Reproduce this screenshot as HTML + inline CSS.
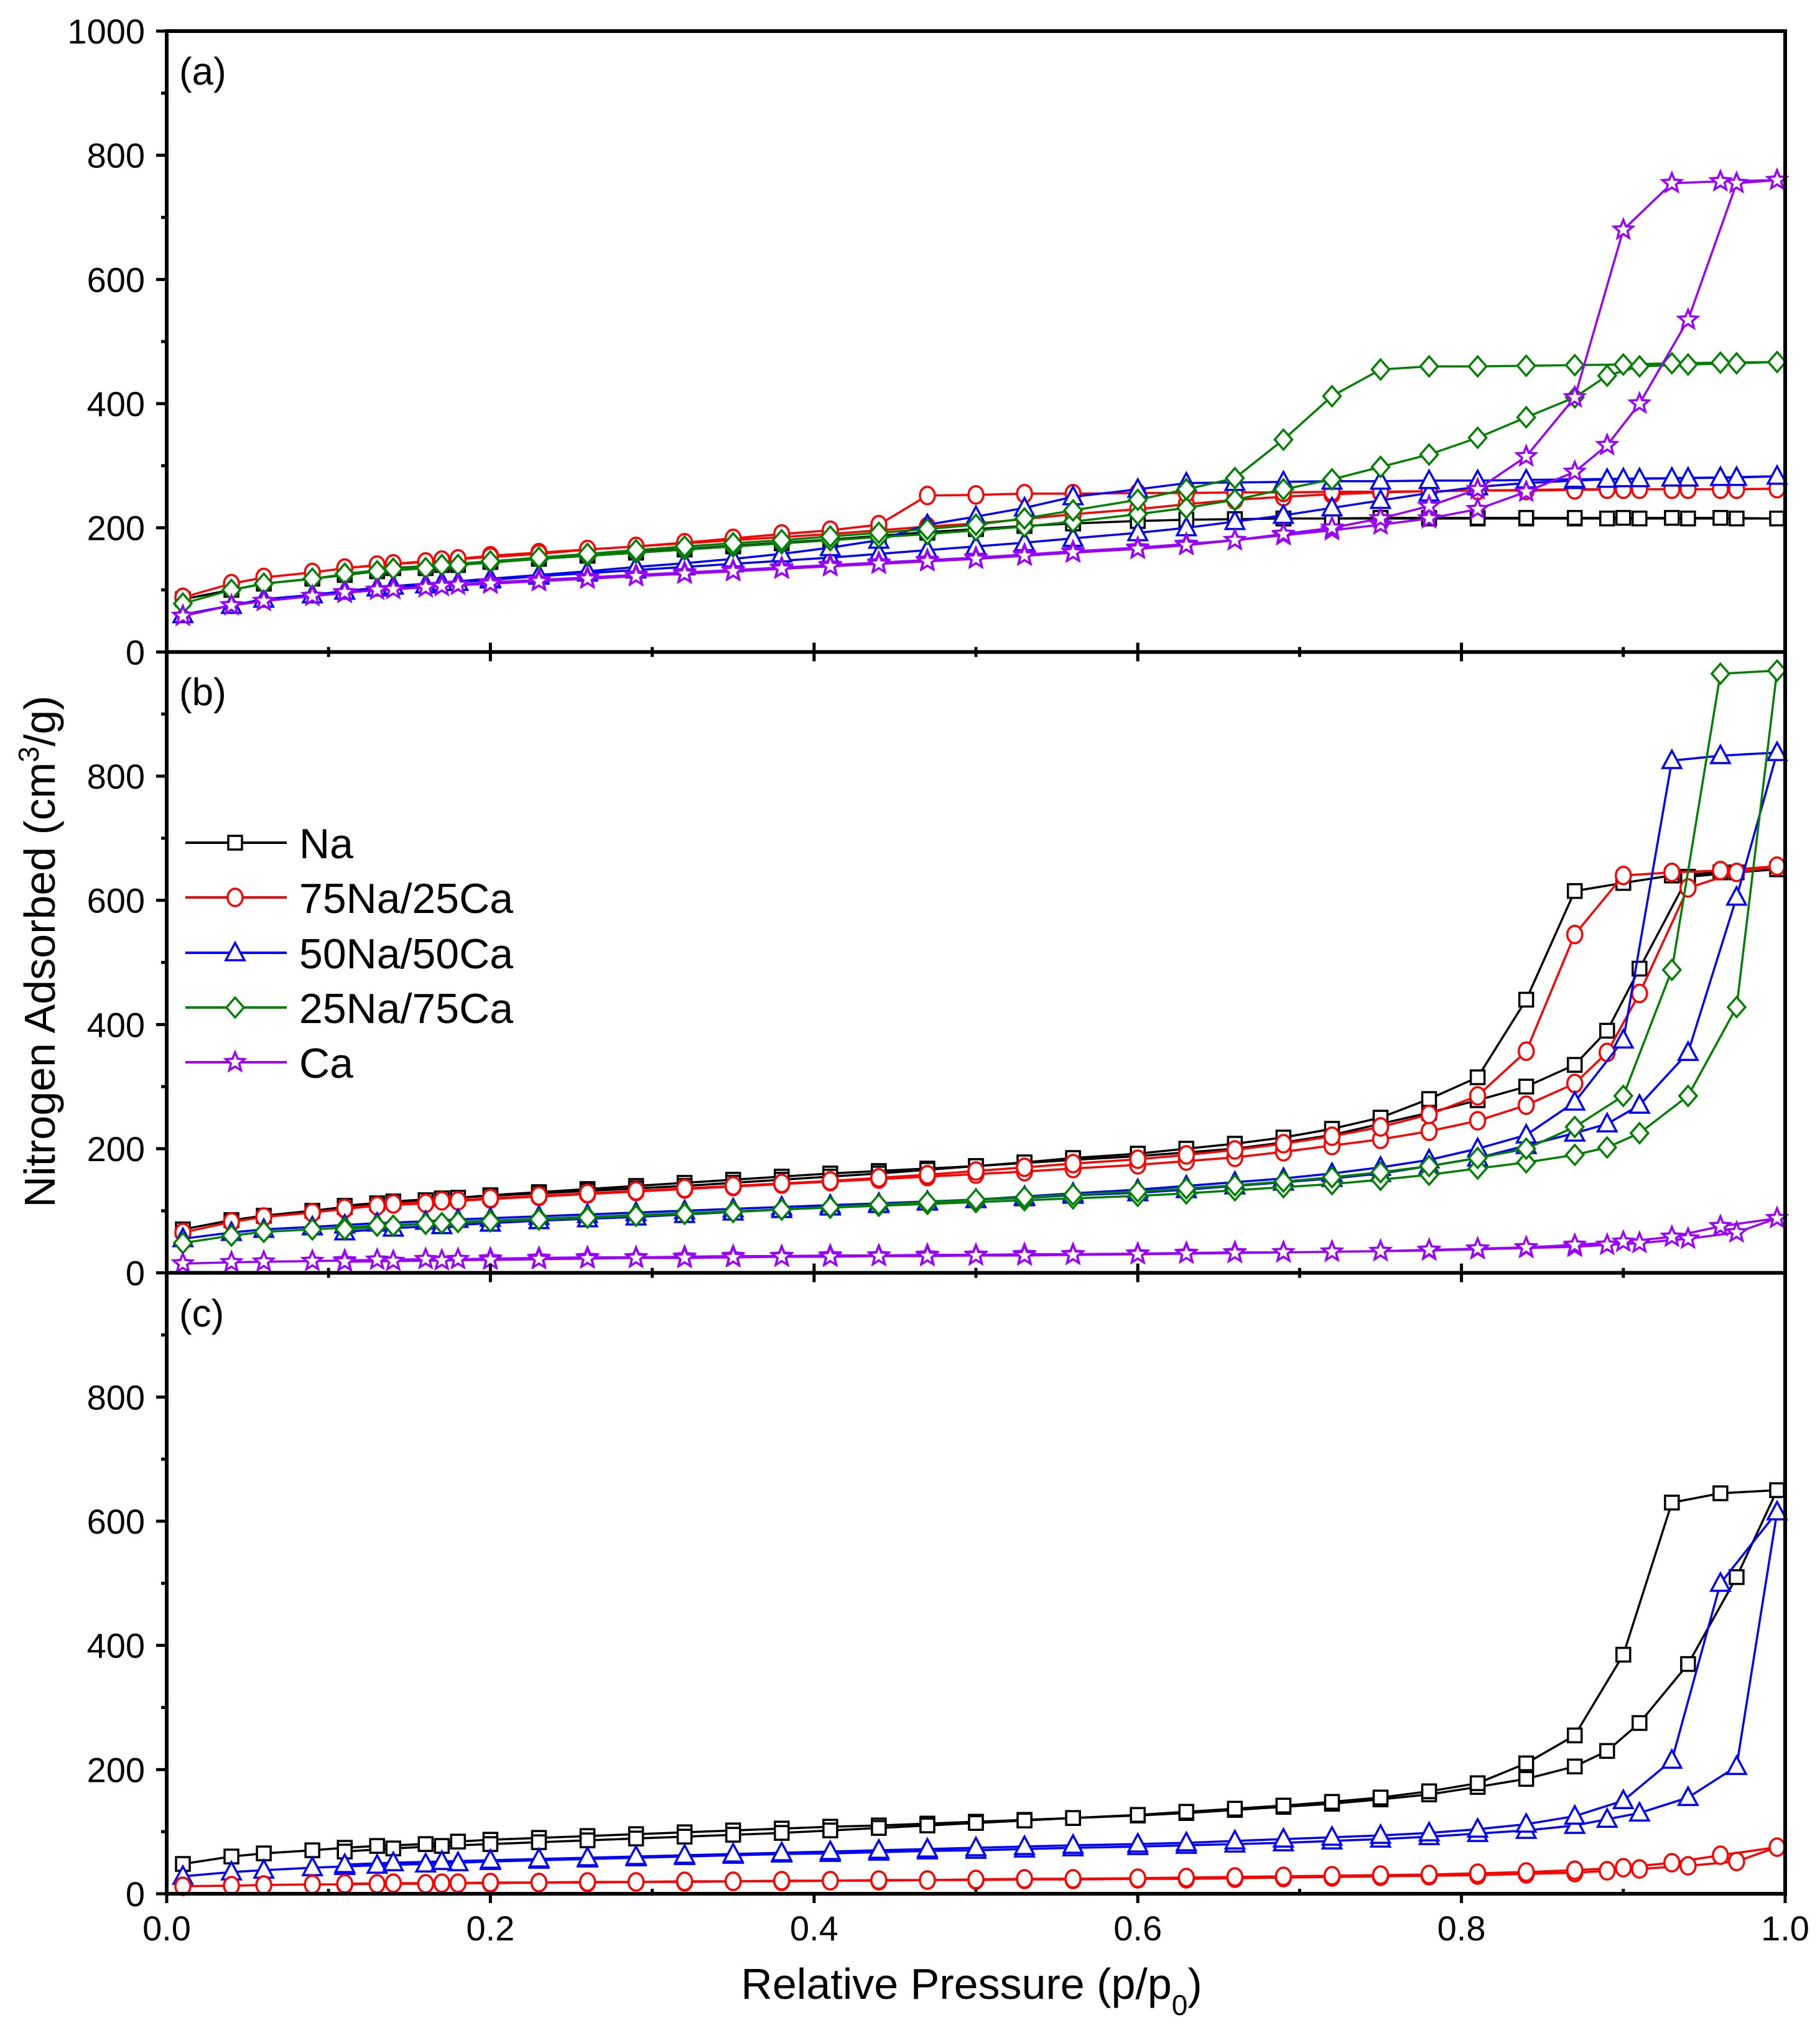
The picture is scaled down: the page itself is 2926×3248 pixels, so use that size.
<!DOCTYPE html>
<html><head><meta charset="utf-8"><style>
html,body{margin:0;padding:0;background:#fff;}
svg{display:block;font-family:"Liberation Sans",Arial,sans-serif;}
</style></head><body>
<svg id="chart" xmlns="http://www.w3.org/2000/svg" width="2926" height="3248" viewBox="0 0 2926 3248">
<rect width="2926" height="3248" fill="#fff"/>
<g id="series-layer"></g>
<g id="axes-layer"></g>
<text x="0" y="0" transform="translate(88,1530) rotate(-90)" text-anchor="middle" font-size="70">Nitrogen Adsorbed (cm<tspan baseline-shift="super" font-size="46">3</tspan>/g)</text>
<text x="1562" y="3214" text-anchor="middle" font-size="70">Relative Pressure (p/p<tspan baseline-shift="sub" font-size="46">0</tspan>)</text>
<text x="288" y="136" font-size="62">(a)</text>
<text x="288" y="1134" font-size="62">(b)</text>
<text x="288" y="2133" font-size="62">(c)</text>
<g id="legend"></g>
</svg>
<script>
const adsX = [0.01,0.04,0.06,0.09,0.11,0.13,0.16,0.18,0.2,0.23,0.26,0.29,0.32,0.35,0.38,0.41,0.44,0.47,0.5,0.53,0.56,0.6,0.63,0.66,0.69,0.72,0.75,0.78,0.81,0.84,0.87,0.89,0.91,0.94,0.97,0.995];
const desX = [0.96,0.93,0.9,0.87,0.84,0.81,0.78,0.75,0.72,0.69,0.66,0.63,0.6,0.56,0.53,0.5,0.47,0.44,0.41,0.38,0.35,0.32,0.29,0.26,0.23,0.2,0.17,0.14,0.11];
const seriesNames = ["Na","75Na/25Ca","50Na/50Ca","25Na/75Ca","Ca"];
const seriesColors = ["#000000","#ff0000","#0000ff","#008000","#9900ff"];
const seriesMarkers = ["square","circle","triangle","diamond","star"];
const xTicks = [0,0.2,0.4,0.6,0.8,1.0];
const xTickLabels = ["0.0","0.2","0.4","0.6","0.8","1.0"];
const yTicksA = [0,200,400,600,800,1000];
const yTicksBC = [0,200,400,600,800];

// panel (a)
const aNaAds = [85,100,110,118,124,130,135,140,145,150,155,160,165,170,175,180,186,192,198,203,207,211,213,214,215,215,215,215,215,215,215,215,215,215,215,215];
const aNaDes = [216,216,216,216,216,216,216,216,215,215,214,213,211,207,203,198,193,187,181,176,171,166,161,156,151,146,140,135,125];
const a75Ads = [88,110,120,128,135,140,145,150,155,160,165,170,175,180,185,190,196,202,207,214,222,230,238,245,250,254,257,259,260,261,262,262,262,262,262,263];
const a75Des = [262,262,262,261,260,260,259,258,258,257,257,256,256,255,255,253,252,205,196,190,183,176,170,165,158,153,148,142,135];
const a50Ads = [60,75,85,92,98,103,108,112,116,122,127,132,137,142,147,152,158,164,170,176,183,192,200,210,220,232,244,256,266,272,276,278,279,280,281,283];
const a50Des = [281,280,279,278,277,276,276,275,275,274,273,272,262,250,232,218,205,180,168,158,150,143,137,130,124,118,112,106,98];
const a25Ads = [78,100,110,118,125,130,135,140,144,150,155,160,165,170,175,180,185,190,196,202,210,222,232,245,262,278,298,318,345,378,410,445,460,463,465,467];
const a25Des = [466,465,463,462,461,460,460,455,412,342,280,262,245,228,215,205,198,192,186,180,175,170,164,158,152,146,140,134,126];
const aCaAds = [58,75,82,90,95,100,104,108,112,116,120,124,128,132,136,140,144,148,152,157,162,168,174,180,188,196,205,215,230,258,290,333,400,535,755,760];
const aCaDes = [758,755,680,410,315,262,235,215,200,190,180,172,166,160,155,150,146,142,138,134,130,126,122,118,114,110,106,101,96];
// panel (b)
const bNaAds = [70,85,92,100,106,112,117,121,125,130,135,140,145,150,155,160,164,168,172,177,182,188,194,200,210,222,240,258,278,300,335,390,490,638,645,650];
const bNaDes = [645,640,628,615,440,315,280,250,232,218,208,200,192,185,178,172,166,160,155,150,145,140,136,132,128,124,120,115,108];
const b75Ads = [65,82,90,97,103,108,112,116,119,123,127,131,135,139,143,147,151,155,159,163,168,174,180,186,195,205,215,228,245,270,305,355,450,620,645,655];
const b75Des = [648,645,640,545,357,285,255,235,220,208,198,190,183,176,170,164,158,153,148,144,140,136,132,128,124,120,116,111,104];
const b50Ads = [55,65,70,74,77,80,83,86,88,91,94,97,100,103,106,109,112,115,118,121,125,129,134,140,146,152,160,172,185,205,225,240,270,355,605,838];
const b50Des = [833,825,375,275,222,200,182,170,160,152,146,140,134,128,123,118,114,110,106,102,98,94,90,87,84,80,76,72,66];
const b25Ads = [48,60,66,70,73,76,79,82,84,87,90,93,96,99,102,105,108,111,114,117,120,124,128,133,138,143,150,158,168,178,190,202,225,285,428,970];
const b25Des = [965,488,285,235,200,185,172,162,154,147,141,136,131,126,122,118,114,110,106,102,98,95,92,89,86,83,80,76,70];
const bCaAds = [15,17,18,19,20,21,22,22,23,24,25,25,26,27,27,28,28,29,29,30,30,31,32,33,33,34,35,36,38,40,42,45,48,55,65,88];
const bCaDes = [75,58,50,45,41,39,37,35,34,33,32,31,30,29,28,28,27,27,26,26,25,24,24,23,22,21,20,19,18];
// panel (c)
const cNaAds = [48,60,65,70,74,77,80,84,87,90,93,96,99,102,105,108,110,113,116,119,122,126,130,135,140,145,152,160,172,185,205,230,275,370,510,650];
const cNaDes = [645,630,385,255,210,178,165,155,148,142,137,132,127,122,118,114,110,106,102,98,95,92,89,86,83,80,77,73,68];
const c75Ads = [12,13,14,15,15,16,16,17,17,18,18,19,19,20,20,21,21,22,22,23,23,24,24,25,26,27,28,29,30,32,34,37,40,45,52,75];
const c75Des = [62,50,42,38,35,33,31,30,29,28,27,26,25,24,24,23,22,22,21,21,20,20,19,19,18,18,17,17,16];
const c50Ads = [28,35,38,42,44,46,48,50,52,54,56,58,60,62,64,65,67,69,70,72,74,76,78,80,82,85,88,92,97,102,110,120,130,155,205,615];
const c50Des = [500,215,150,125,112,104,98,94,91,88,85,82,80,78,76,74,72,70,68,66,64,62,60,58,56,54,52,50,47];

const NS="http://www.w3.org/2000/svg";
const X0=268, X1=2870, TOP=50, BOT=3045;
const PH=(BOT-TOP)/3;
function xs(v){return X0+v*(X1-X0);}
function ys(p,v){const b=TOP+PH*(p+1);return b-v*(PH/1000);}
function mk(tag,attrs,parent){const e=document.createElementNS(NS,tag);for(const k in attrs)e.setAttribute(k,attrs[k]);parent.appendChild(e);return e;}

function marker(type,cx,cy,color,parent){
  let e;
  if(type==="square") e=mk("rect",{x:cx-11,y:cy-11,width:22,height:22},parent);
  else if(type==="circle") e=mk("ellipse",{cx:cx,cy:cy,rx:12,ry:14},parent);
  else if(type==="triangle") e=mk("polygon",{points:`${cx},${cy-16} ${cx+15},${cy+12} ${cx-15},${cy+12}`},parent);
  else if(type==="diamond") e=mk("polygon",{points:`${cx},${cy-16} ${cx+14},${cy} ${cx},${cy+16} ${cx-14},${cy}`},parent);
  else { let pts=[]; for(let i=0;i<10;i++){const r=i%2?7:16;const a=-Math.PI/2+i*Math.PI/5;pts.push((cx+r*Math.cos(a)).toFixed(1)+","+(cy+r*Math.sin(a)).toFixed(1));} e=mk("polygon",{points:pts.join(" ")},parent);}
  e.setAttribute("fill","#fff");e.setAttribute("stroke",color);e.setAttribute("stroke-width","3.5");
  
  
}

const panels = [
  {p:0,key:"a",series:[[0,aNaAds,aNaDes],[1,a75Ads,a75Des],[2,a50Ads,a50Des],[3,a25Ads,a25Des],[4,aCaAds,aCaDes]]},
  {p:1,key:"b",series:[[0,bNaAds,bNaDes],[1,b75Ads,b75Des],[2,b50Ads,b50Des],[3,b25Ads,b25Des],[4,bCaAds,bCaDes]]},
  {p:2,key:"c",series:[[0,cNaAds,cNaDes],[2,c50Ads,c50Des],[1,c75Ads,c75Des]]}
];
const sl=document.getElementById("series-layer");
panels.forEach(P=>{
  P.series.forEach(([si,ads,des])=>{
    const g=mk("g",{},sl);
    
    
    const col=seriesColors[si];
    const pts=[];
    adsX.forEach((x,i)=>pts.push([xs(x),ys(P.p,ads[i])]));
    desX.forEach((x,i)=>pts.push([xs(x),ys(P.p,des[i])]));
    const pl=mk("polyline",{points:pts.map(q=>q[0].toFixed(1)+","+q[1].toFixed(1)).join(" "),fill:"none",stroke:col,"stroke-width":3.5,"stroke-linejoin":"round"},g);
    
    
    pts.forEach(q=>marker(seriesMarkers[si],q[0],q[1],col,g));
  });
});

const ax=document.getElementById("axes-layer");
mk("rect",{x:X0,y:TOP,width:X1-X0,height:BOT-TOP,fill:"none",stroke:"#000","stroke-width":6},ax);
for(let p=0;p<3;p++){
  const b=TOP+PH*(p+1);
  const bl=mk("line",{x1:X0,y1:b,x2:X1,y2:b,stroke:"#000","stroke-width":6},ax);
  
  
  for(let k=0;k<=10;k++){
    const x=xs(k/10), major=k%2===0;
    const up=major?15:8, dn=(p<2)?(major?15:8):(major?15:0);
    if(p===2&&!major){mk("line",{x1:x,y1:b-8,x2:x,y2:b,stroke:"#000","stroke-width":5},ax);}
    else mk("line",{x1:x,y1:b-(p<2?up:0),x2:x,y2:b+dn,stroke:"#000","stroke-width":5},ax);
  }
  const yt=p===0?yTicksA:yTicksBC;
  for(let v=0;v<=(p===0?1000:900);v+=100){
    const y=ys(p,v), major=v%200===0;
    mk("line",{x1:X0-(major?17:9),y1:y,x2:X0,y2:y,stroke:"#000","stroke-width":5},ax);
  }
  yt.forEach(v=>{
    const t=mk("text",{x:233,y:ys(p,v)+20,"text-anchor":"end","font-size":56},ax);
    t.textContent=String(v);
    
    
  });
}
xTicks.forEach((v,i)=>{
  const t=mk("text",{x:xs(v),y:3120,"text-anchor":"middle","font-size":56},ax);
  t.textContent=xTickLabels[i];
  
  
});

const lg=document.getElementById("legend");
const rows=[1355,1443,1532,1620,1708];
seriesNames.forEach((n,i)=>{
  const g=mk("g",{},lg);
  
  
  mk("line",{x1:298,y1:rows[i],x2:461,y2:rows[i],stroke:seriesColors[i],"stroke-width":4},g);
  marker(seriesMarkers[i],378,rows[i],seriesColors[i],g);
  const t=mk("text",{x:481,y:rows[i]+25,"font-size":68},g);
  t.textContent=n;
  
  
});
</script>
</body></html>
